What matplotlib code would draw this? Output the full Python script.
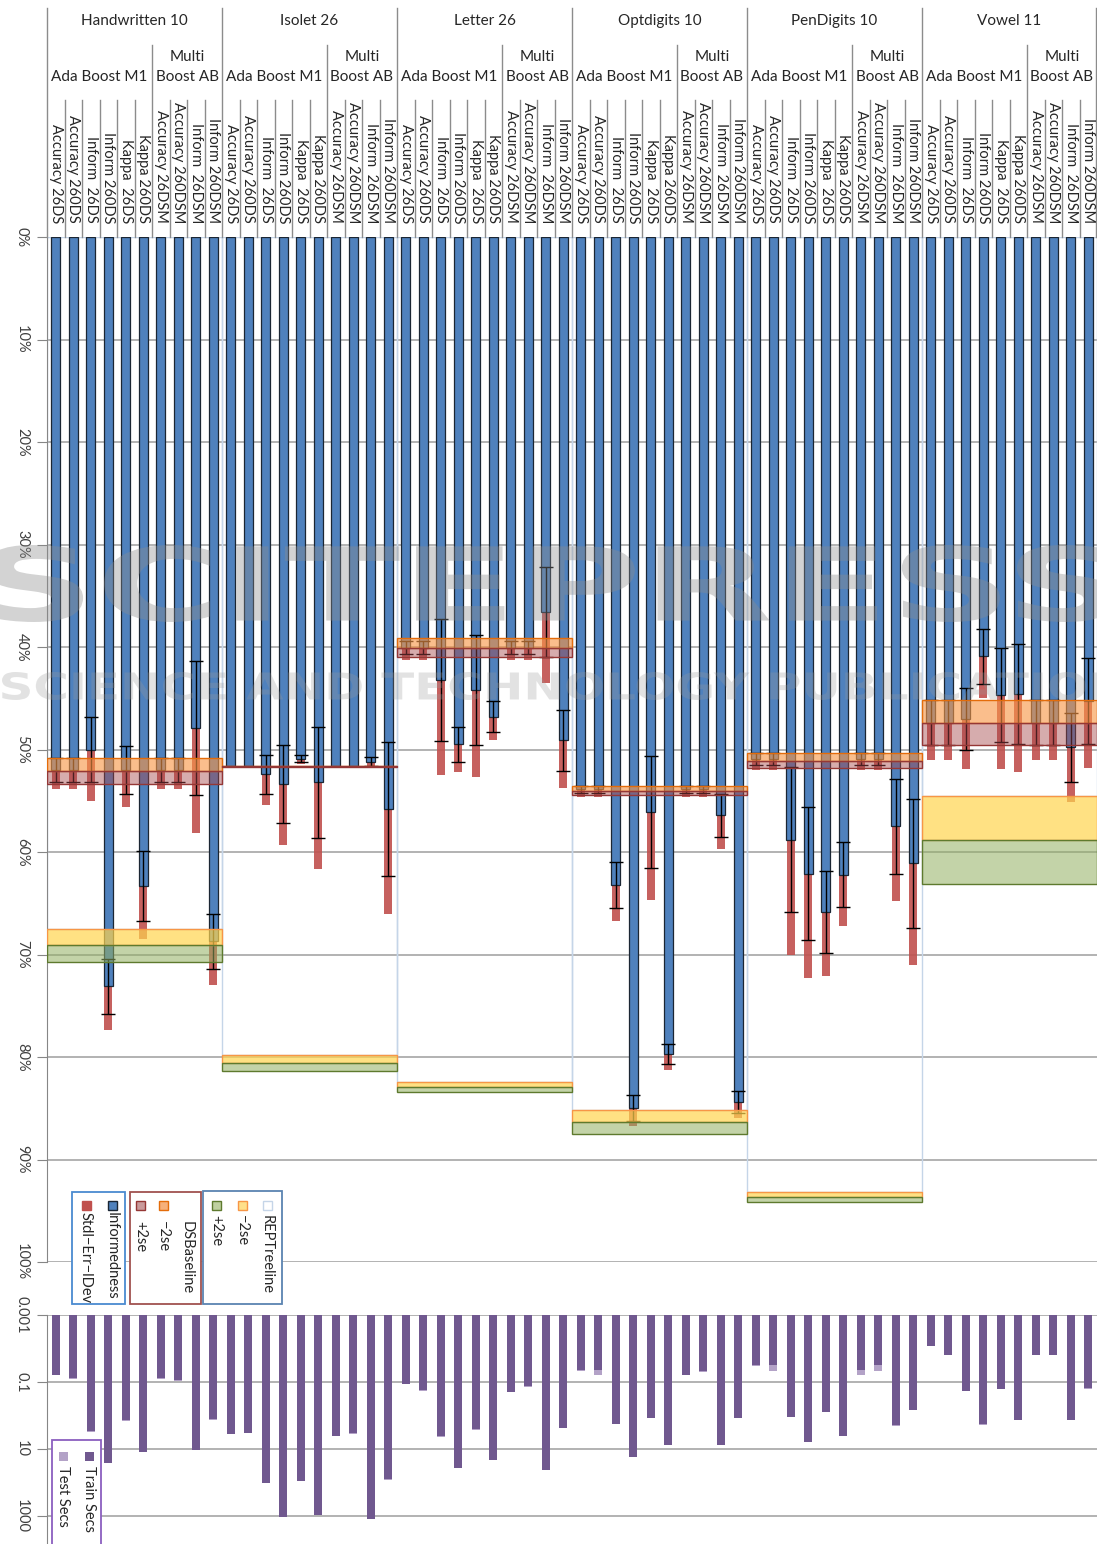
import numpy as np
import matplotlib
matplotlib.use('Agg')
import matplotlib.pyplot as plt
from matplotlib.colors import to_rgba
from matplotlib.patches import Rectangle, PathPatch
from matplotlib.textpath import TextPath
from matplotlib.font_manager import FontProperties
from matplotlib.transforms import Affine2D

plt.rcParams['font.family'] = ['Lato', 'DejaVu Sans']

# ---------------- data ----------------
datasets = ['Handwritten 10', 'Isolet 26', 'Letter 26', 'Optdigits 10', 'PenDigits 10', 'Vowel 11']
learners = ['Ada Boost M1', 'Multi\nBoost AB']
measures = ['Accuracy 26DS', 'Accuracy 260DS', 'Inform  26DS', 'Inform 260DS',
            'Kappa  26DS', 'Kappa 260DS', 'Accuracy 26DSM', 'Accuracy 260DSM',
            'Inform  26DSM', 'Inform 260DSM']

# Informedness (%) - blue bars
inform_hw = [52.0, 52.0, 50.0, 73.1, 52.0, 63.3, 52.0, 52.0, 47.9, 68.7]
inform_is = [51.6, 51.6, 52.4, 53.4, 50.9, 53.2, 51.6, 51.6, 51.2, 55.8]
inform_le = [40.05, 40.05, 43.2, 49.5, 44.2, 46.8, 40.05, 40.05, 36.6, 49.1]
inform_op = [53.9, 53.9, 63.2, 85.0, 56.1, 79.7, 53.9, 53.9, 56.4, 84.4]
inform_pe = [50.9, 50.9, 58.8, 62.1, 65.9, 62.2, 50.9, 50.9, 57.5, 61.1]
inform_vo = [47.4, 47.4, 47.0, 40.9, 44.7, 44.6, 47.4, 47.4, 49.8, 45.3]

# 2 x standard error (%) - error bars
se2_hw = [1.2, 1.2, 3.2, 2.7, 2.3, 3.4, 1.2, 1.2, 6.5, 2.7]
se2_is = [0.0, 0.0, 1.9, 3.8, 0.35, 5.4, 0.0, 0.0, 0.45, 6.5]
se2_le = [0.6, 0.6, 5.95, 1.7, 5.4, 1.5, 0.6, 0.6, 4.4, 3.0]
se2_op = [0.3, 0.3, 2.25, 1.25, 5.5, 1.0, 0.3, 0.3, 2.1, 1.1]
se2_pe = [0.6, 0.6, 7.1, 6.45, 4.0, 3.2, 0.6, 0.6, 4.6, 6.3]
se2_vo = [2.2, 2.2, 3.0, 2.7, 4.6, 4.9, 2.2, 2.2, 3.4, 4.2]

# standard deviation (%) - red stacked bars
sdev_hw = [1.9, 1.9, 5.0, 4.3, 3.6, 5.2, 1.9, 1.9, 10.2, 4.3]
sdev_is = [0.1, 0.1, 3.0, 5.9, 0.5, 8.5, 0.1, 0.1, 0.65, 10.2]
sdev_le = [1.2, 1.2, 9.3, 2.7, 8.5, 2.3, 1.2, 1.2, 6.9, 4.7]
sdev_op = [0.7, 0.7, 3.5, 1.7, 8.55, 1.6, 0.7, 0.7, 3.3, 1.6]
sdev_pe = [1.1, 1.1, 11.2, 10.2, 6.2, 5.05, 1.1, 1.1, 7.3, 9.9]
sdev_vo = [3.6, 3.6, 4.9, 4.1, 7.2, 7.6, 3.6, 3.6, 5.3, 6.5]

# baselines per dataset (%)
ds_baseline = [52.1, 51.65, 40.05, 54.0, 51.1, 47.4]
ds_2se = [1.25, 0.05, 0.9, 0.4, 0.75, 2.2]
rep_treeline = [69.1, 80.6, 82.9, 86.35, 93.65, 58.8]
rep_2se = [1.6, 0.75, 0.5, 1.2, 0.45, 4.3]

# timings (seconds)
train_secs = [0.060, 0.078, 2.99, 25.5, 1.41, 12.0, 0.078, 0.089, 10.5, 1.31,
              3.58, 3.27, 105, 1070, 91, 933, 4.0, 3.4, 1230, 81,
              0.112, 0.177, 4.2, 37.5, 2.6, 20.7, 0.194, 0.135, 41, 2.38,
              0.043, 0.043, 1.81, 17.7, 1.17, 7.6, 0.060, 0.046, 7.6, 1.17,
              0.032, 0.032, 1.12, 6.05, 0.76, 4.0, 0.043, 0.031, 1.98, 0.68,
              0.0083, 0.0154, 0.185, 1.85, 0.161, 1.38, 0.0154, 0.0154, 1.38, 0.154]
test_secs = [0.002, 0.002, 0.05, 0.3, 0.03, 0.2, 0.002, 0.002, 0.2, 0.03,
             0.05, 0.05, 1.0, 8.0, 1.0, 8.0, 0.05, 0.05, 8.0, 1.0,
             0.003, 0.004, 0.05, 0.4, 0.04, 0.3, 0.004, 0.003, 0.4, 0.04,
             0.003, 0.017, 0.03, 0.2, 0.02, 0.1, 0.003, 0.003, 0.1, 0.02,
             0.002, 0.014, 0.02, 0.1, 0.01, 0.05, 0.017, 0.015, 0.03, 0.01,
             0.0004, 0.0006, 0.004, 0.03, 0.003, 0.02, 0.0006, 0.0006, 0.02, 0.003]

inform = np.concatenate([inform_hw, inform_is, inform_le, inform_op, inform_pe, inform_vo])
se2 = np.concatenate([se2_hw, se2_is, se2_le, se2_op, se2_pe, se2_vo])
sdev = np.concatenate([sdev_hw, sdev_is, sdev_le, sdev_op, sdev_pe, sdev_vo])
train = np.array(train_secs)
test = np.array(test_secs)

nper = len(measures)
nbar = nper * len(datasets)
xc = np.arange(nbar) + 0.5
xd = np.arange(len(datasets)) * nper

# ---------------- figure ----------------
W, H = 1097, 1544
fig = plt.figure(figsize=(W / 100, H / 100), dpi=100)

PL, PR = 47, 1097
MT, MB = 237, 1262
BT = 1315

ax = fig.add_axes([PL / W, 1 - MB / H, (PR - PL) / W, (MB - MT) / H])
ax2 = fig.add_axes([PL / W, 0, (PR - PL) / W, (H - BT) / H])

GRID = '#A6A6A6'
SPINE = '#868686'
TXT = '#262626'

# main chart
ax.set_xlim(0, nbar)
ax.set_ylim(100, 0)
ax.set_axisbelow(True)
ax.yaxis.grid(True, color=GRID, lw=1.2)
ax.set_yticks(np.arange(0, 101, 10))
ax.set_yticklabels([f'{v}%' for v in range(0, 101, 10)])
ax.set_xticks([])
for s in ['top', 'right', 'bottom']:
    ax.spines[s].set_visible(False)
ax.spines['left'].set_color(SPINE)
ax.tick_params(axis='y', length=7, color=SPINE, labelsize=10.5, labelcolor='#404040', pad=6)
for lab in ax.get_yticklabels():
    lab.set_rotation(-90)
    lab.set_va('center')
    lab.set_ha('right')

ax.bar(xc, inform, width=0.5, color='#4F81BD', edgecolor='#1b2633', linewidth=0.9, zorder=3)
ax.bar(xc, sdev, bottom=inform, width=0.44, color=to_rgba('#C0504D', 0.9), linewidth=0, zorder=2.9)
m = se2 > 0
ax.errorbar(xc[m], inform[m], yerr=se2[m], fmt='none', ecolor='black', elinewidth=1.0,
            capsize=5, capthick=1.0, zorder=4)

ds_b = np.array(ds_baseline); ds_e = np.array(ds_2se)
rp_b = np.array(rep_treeline); rp_e = np.array(rep_2se)
# REPTree line outline (invisible fill, light blue edge)
ax.bar(xd, rp_b - rp_e, width=nper, align='edge', facecolor='none', edgecolor='#C5D5E8', lw=1.0, zorder=2)
ax.bar(xd, ds_e, bottom=ds_b - ds_e, width=nper, align='edge',
       facecolor=to_rgba('#F79646', 0.62), edgecolor='#E46C0A', lw=1.0, zorder=5)
ax.bar(xd, ds_e, bottom=ds_b, width=nper, align='edge',
       facecolor=to_rgba('#A6474B', 0.45), edgecolor='#953735', lw=1.0, zorder=5)
ax.bar(xd, rp_e, bottom=rp_b - rp_e, width=nper, align='edge',
       facecolor=to_rgba('#FFD54F', 0.7), edgecolor='#F79646', lw=1.0, zorder=5)
ax.bar(xd, rp_e, bottom=rp_b, width=nper, align='edge',
       facecolor=to_rgba('#93AF62', 0.55), edgecolor='#5E7A2E', lw=1.0, zorder=5)

# timing chart
ax2.set_yscale('log')
ax2.set_xlim(0, nbar)
ybot = 10 ** (3 + (H - 1516) / 33.5)
ax2.set_ylim(ybot, 0.001)
ax2.set_axisbelow(True)
ax2.set_yticks([0.001, 0.1, 10, 1000])
ax2.set_yticklabels(['0.001', '0.1', '10', '1000'])
ax2.yaxis.set_minor_locator(matplotlib.ticker.NullLocator())
ax2.yaxis.grid(True, color=GRID, lw=1.2)
ax2.set_xticks([])
for s in ['top', 'right', 'bottom']:
    ax2.spines[s].set_visible(False)
ax2.spines['left'].set_color(SPINE)
ax2.tick_params(axis='y', length=7, color=SPINE, labelsize=10.5, labelcolor='#404040', pad=6)
for lab in ax2.get_yticklabels():
    lab.set_rotation(-90)
    lab.set_va('center')
    lab.set_ha('right')
ax2.bar(xc, train - 0.001, bottom=0.001, width=0.44, color='#70588F', zorder=3)
ax2.bar(xc, test, bottom=train, width=0.44, color='#B3A2C7', zorder=3)

# ---------------- overlay (header, legends, watermark) ----------------
ov = fig.add_axes([0, 0, 1, 1], zorder=10)
ov.set_xlim(0, W)
ov.set_ylim(H, 0)
ov.axis('off')
ov.patch.set_alpha(0)

LC = '#8C8C8C'
dw = (PR - PL) / len(datasets)
bw = dw / nper
for d in range(len(datasets) + 1):
    x = min(PL + d * dw, PR - 1)
    ov.plot([x, x], [8, MT], color=LC, lw=1)
for d, name in enumerate(datasets):
    x0 = PL + d * dw
    ov.plot([x0 + 6 * bw] * 2, [45, MT], color=LC, lw=1)
    for k in range(1, nper):
        if k != 6:
            ov.plot([x0 + k * bw] * 2, [100, MT], color=LC, lw=1)
    ov.text(x0 + dw / 2, 21, name, ha='center', va='center', fontsize=11, color=TXT)
    ov.text(x0 + 3 * bw, 77, learners[0], ha='center', va='center', fontsize=11, color=TXT)
    ov.text(x0 + 8 * bw, 57, learners[1].split('\n')[0], ha='center', va='center', fontsize=11, color=TXT)
    ov.text(x0 + 8 * bw, 77, learners[1].split('\n')[1], ha='center', va='center', fontsize=11, color=TXT)
    for j, mname in enumerate(measures):
        ov.text(x0 + (j + 0.5) * bw, 223, mname, rotation=-90, ha='center', va='bottom',
                fontsize=10.5, color=TXT)


def legend_box(x0, x1, y0, y1, ec, items):
    ov.add_patch(Rectangle((x0, y0), x1 - x0, y1 - y0, facecolor='white', edgecolor=ec, lw=1.3, zorder=11))
    for (x, label, fc, mec, ytxt) in items:
        if fc is not None:
            ov.add_patch(Rectangle((x - 4.5, 1201), 9, 9, facecolor=fc, edgecolor=mec, lw=1, zorder=12))
        ov.text(x, ytxt, label, rotation=-90, ha='center', va='top', fontsize=10.5, color=TXT, zorder=12)


legend_box(72, 125, 1192, 1304, '#4A8AD0', [
    (112, 'Informedness', '#4F81BD', '#1b2633', 1212),
    (86, 'Stdl\u2212Err\u2212lDev', '#C0504D', '#C0504D', 1212)])
legend_box(130, 201, 1192, 1304, '#A0524F', [
    (187, 'DSBaseline', None, None, 1221),
    (163, '\u22122se', '#F6B07A', '#E46C0A', 1221),
    (140, '+2se', '#C99A9B', '#953735', 1221)])
legend_box(203, 282, 1191, 1304, '#5B84B1', [
    (267, 'REPTreeline', 'white', '#C5D5E8', 1215),
    (242, '\u22122se', '#FFE08A', '#F79646', 1215),
    (216, '+2se', '#BFD0A0', '#5E7A2E', 1215)])

# train/test legend
ov.add_patch(Rectangle((52, 1440), 49, 120, facecolor='white', edgecolor='#8B5FBF', lw=1.3, zorder=11))
ov.add_patch(Rectangle((84.5, 1452), 9, 9, facecolor='#70588F', edgecolor='none', zorder=12))
ov.add_patch(Rectangle((58.5, 1452), 9, 9, facecolor='#B3A2C7', edgecolor='none', zorder=12))
ov.text(89, 1466, 'Train Secs', rotation=-90, ha='center', va='top', fontsize=10.5, color=TXT, zorder=12)
ov.text(63, 1466, 'Test Secs', rotation=-90, ha='center', va='top', fontsize=10.5, color=TXT, zorder=12)


def stretched_text(s, x0, x1, ytop, ybot, **kw):
    tp = TextPath((0, 0), s, size=100, prop=FontProperties(family='DejaVu Sans', weight='bold'))
    bb = tp.get_extents()
    sx = (x1 - x0) / bb.width
    sy = (ybot - ytop) / bb.height
    tr = Affine2D().translate(-bb.x0, -bb.y0).scale(sx, -sy).translate(x0, ybot)
    ov.add_patch(PathPatch(tr.transform_path(tp), **kw))


stretched_text('SCITEPRESS', -15, 1115, 545, 622, facecolor='#8C8C8C', edgecolor='none', alpha=0.38, zorder=9)
stretched_text('SCIENCE AND TECHNOLOGY PUBLICATIONS', 2, 1160, 672, 700,
               facecolor='#9A9A9A', edgecolor='none', alpha=0.28, zorder=9)

fig.savefig('out.png', dpi=100)
